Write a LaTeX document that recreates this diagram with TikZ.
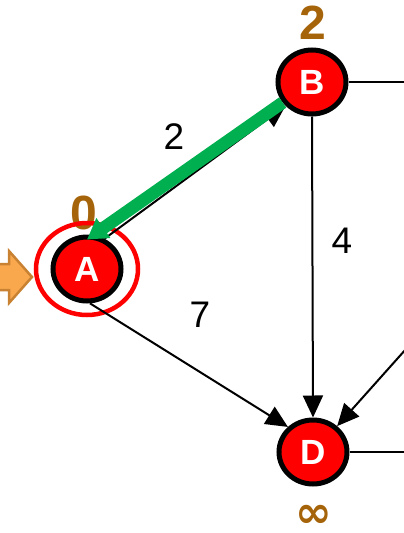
\documentclass[tikz,border=0pt]{standalone}
\usepackage{fontspec}
\setmainfont{Liberation Sans}
\newfontfamily\symfont{DejaVu Sans}
\usetikzlibrary{shapes,arrows.meta,positioning}
\definecolor{distbrown}{RGB}{166,100,10}
\definecolor{pathgreen}{RGB}{0,176,80}
\definecolor{startfill}{RGB}{250,168,78}
\definecolor{startedge}{RGB}{200,130,50}

\begin{document}
\begin{tikzpicture}[x=1pt, y=-1pt,
        vertex/.style={ellipse, draw=black, line width=5pt, fill=red, inner sep=0pt, minimum width=68pt, minimum height=64pt, text=white, font=\fontsize{35}{35}\selectfont\bfseries},
        dist/.style={inner sep=0pt, text=distbrown, font=\fontsize{48}{48}\selectfont\bfseries},
        weight/.style={inner sep=0pt, font=\fontsize{37}{37}\selectfont},
        edge/.style={-{Triangle[length=22pt,width=20pt]}, line width=2pt},
        link/.style={line width=2pt},
        shortest/.style={-{Triangle[length=20pt,width=23pt]}, line width=12.5pt, draw=pathgreen}]

        \useasboundingbox (0,0) rectangle (404,533);
        \clip (0,0) rectangle (404,533);

        % Distances
        \node[dist] (distA) at (84,213) {0};
        \node[dist] (distB) at (313,23) {2};
        \node[dist, font=\symfont\fontsize{44}{44}\selectfont\bfseries] (distD) at (314,516) {∞};

        % Vertices
        \node[vertex] (A) at (87,269) {A};
        \node[vertex] (B) at (312,82) {B};
        \node[vertex] (D) at (313,452) {D};
        \node[draw=red, line width=4.5pt, ellipse, minimum width=102pt, minimum height=92pt] (current) at (87,269) {};

        % Start marker
        \draw[draw=startedge, fill=startfill, line width=2.5pt] (-5,264) -- (9,264) -- (9,251) -- (32,277) -- (9,303) -- (9,290) -- (-5,290) -- cycle;

        % Loose ends leaving the frame
        \coordinate (bout) at (406,82);
        \coordinate (dout) at (406,452);
        \coordinate (cin) at (406,349);

        % Edges
        \draw[link] (B.east) -- (bout);
        \draw[link] (D.east) -- (dout);
        \draw[edge] (B.south) -- (D.north);
        \draw[edge] (A.-85) -- (D.135);
        \draw[edge] (cin) -- (D.47);
        \draw[edge] (A.60) -- (B.222);
        \draw[shortest] (B.215) -- ([yshift=-5pt]A.north);

        % Weights
        \node[weight] (wAB) at (174,137) {2};
        \node[weight] (wBD) at (342,241) {4};
        \node[weight] (wAD) at (200,315) {7};

    \end{tikzpicture}
\end{document}
